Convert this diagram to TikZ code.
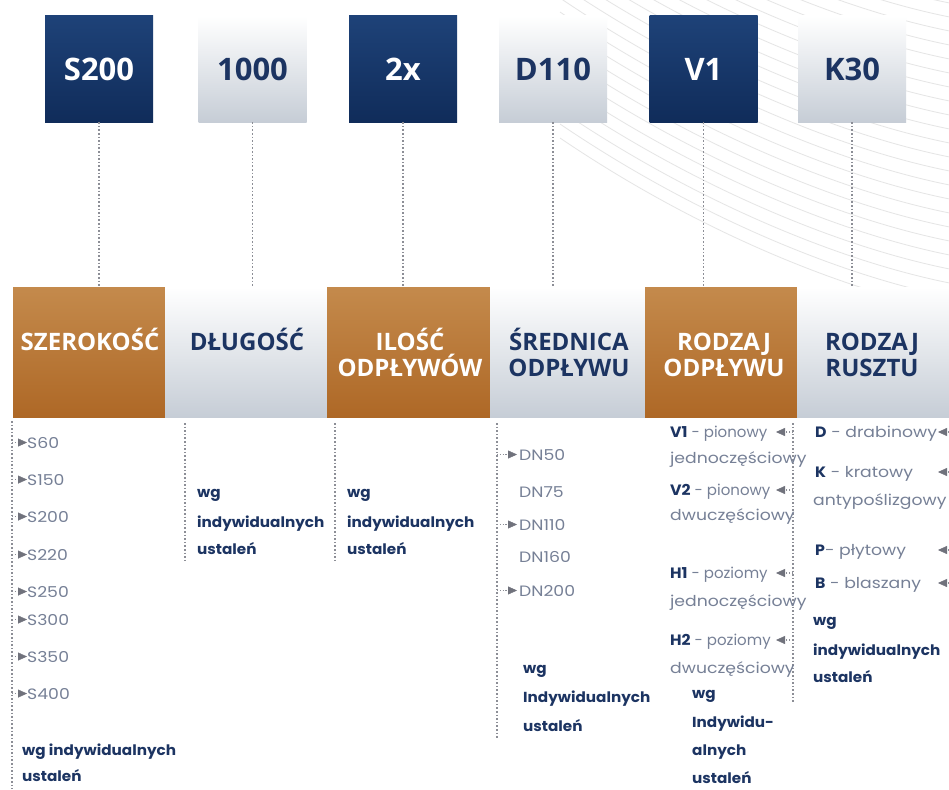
\documentclass[tikz,border=0pt]{standalone}
\usepackage{fontspec}
\usetikzlibrary{arrows.meta,calc}
\setmainfont{Open Sans}
\newfontfamily\hdf{Open Sans}
\newfontfamily\itf{Poppins}[FakeStretch=1.15]
\newfontfamily\itn{Poppins}[FakeStretch=1.0]
\newfontfamily\itbf{Poppins}[FakeStretch=1.05]
\definecolor{navyL}{RGB}{30,66,120}
\definecolor{navyD}{RGB}{16,44,90}
\definecolor{navyT}{RGB}{28,52,98}
\definecolor{greyD}{RGB}{198,205,214}
\definecolor{brownL}{RGB}{196,138,76}
\definecolor{brownD}{RGB}{174,104,38}
\definecolor{itemC}{RGB}{118,128,150}
\definecolor{dotC}{RGB}{140,142,150}
\definecolor{tipC}{RGB}{112,114,124}
\tikzset{
  topD/.style={minimum width=108pt,minimum height=106pt,inner sep=0pt,top color=navyL,bottom color=navyD,text=white,font=\hdf\bfseries\fontsize{31}{31}\selectfont},
  topG/.style={minimum width=108pt,minimum height=106pt,inner sep=0pt,top color=white,bottom color=greyD,text=navyT,font=\hdf\bfseries\fontsize{31}{31}\selectfont},
  hdB/.style={minimum height=130pt,inner sep=0pt,top color=brownL,bottom color=brownD},
  hdG/.style={minimum height=130pt,inner sep=0pt,top color=white,bottom color=greyD},
  htW/.style={font=\hdf\bfseries\fontsize{24}{26}\selectfont,text=white,anchor=base,inner sep=0pt},
  htN/.style={font=\hdf\bfseries\fontsize{24}{26}\selectfont,text=navyT,anchor=base,inner sep=0pt},
  item/.style={font=\itf\fontsize{15}{18}\selectfont,text=itemC,anchor=base west,inner sep=0pt},
  nitem/.style={font=\itn\fontsize{15}{18}\selectfont,text=itemC,anchor=base west,inner sep=0pt},
  bitem/.style={font=\itbf\bfseries\fontsize{14.5}{18}\selectfont,text=navyT,anchor=base west,inner sep=0pt},
  dotline/.style={draw=dotC,line width=1.6pt,dash pattern=on 1.6pt off 2pt},
  stub/.style={draw=dotC,line width=1.2pt,dash pattern=on 1.2pt off 1.6pt,-{Triangle[length=9pt,width=8pt,color=tipC,line width=0.4pt]}},
  deco/.style={draw=gray!20,line width=0.8pt},
}
\newcommand{\cd}[1]{{\color{navyT}\itbf\bfseries #1}}
\begin{document}
\begin{tikzpicture}[x=1pt,y=-1pt]
\useasboundingbox (0,0) rectangle (949,789);
\fill[white] (0,0) rectangle (949,789);
% decorative curves
\foreach \i in {0,...,22}
  \draw[deco] (560,\i*14-170) .. controls (700,\i*14-75) and (850,\i*14-15) .. (960,\i*14+5);
% top boxes
\node[topD] (t1) at (99,69) {S200};
\node[topG] (t2) at (252.5,69) {1000};
\node[topD] (t3) at (403,69) {2x};
\node[topG] (t4) at (553,69) {D110};
\node[topD] (t5) at (703.5,69) {V1};
\node[topG] (t6) at (852,69) {K30};
% headers
\node[hdB,minimum width=152pt] (h1) at (89,352) {};
\node[hdG,minimum width=162pt] (h2) at (246,352) {};
\node[hdB,minimum width=163pt] (h3) at (408.5,352) {};
\node[hdG,minimum width=155pt] (h4) at (567.5,352) {};
\node[hdB,minimum width=152pt] (h5) at (721,352) {};
\node[hdG,minimum width=152pt] (h6) at (873,352) {};
\node[htW] (x1) at (90,350) {SZEROKOŚĆ};
\node[htN] (x2) at (247,350) {DŁUGOŚĆ};
\node[htW] (x3a) at (410,350) {ILOŚĆ};
\node[htW] (x3b) at (410,376) {ODPŁYWÓW};
\node[htN] (x4a) at (569,350) {ŚREDNICA};
\node[htN] (x4b) at (569,376) {ODPŁYWU};
\node[htW] (x5a) at (724,350) {RODZAJ};
\node[htW] (x5b) at (724,376) {ODPŁYWU};
\node[htN] (x6a) at (872,350) {RODZAJ};
\node[htN] (x6b) at (872,376) {RUSZTU};
% top connectors
\foreach \k in {1,...,6}
  \draw[dotline] (t\k.south) -- (t\k.south |- h\k.north);
% lower dotted lines
\coordinate (a1) at (12,421);  \coordinate (b1) at (12,789);
\coordinate (a2) at (185,423); \coordinate (b2) at (185,562);
\coordinate (a3) at (335,423); \coordinate (b3) at (335,560);
\coordinate (a4) at (497,423); \coordinate (b4) at (497,738);
\coordinate (a5) at (793,423); \coordinate (b5) at (793,703);
\coordinate (a6) at (949,423);
\foreach \k in {1,...,5} \draw[dotline] (a\k) -- (b\k);
% column 1
\foreach \t/\y [count=\k] in {S60/443,S150/480,S200/517,S220/555,S250/592,S300/620,S350/657,S400/694} {
  \node[item] (s\k) at (27,\y+5) {\t};
  \draw[stub] (s\k.west -| a1) -- (s\k.west);
}
\node[bitem] (c1a) at (22,755) {wg indywidualnych};
\node[bitem] (c1b) at (22,781) {ustaleń};
% column 2 and 3
\node[bitem] (c2a) at (197,497) {wg};
\node[bitem] (c2b) at (197,527) {indywidualnych};
\node[bitem] (c2c) at (197,554) {ustaleń};
\node[bitem] (c3a) at (347,497) {wg};
\node[bitem] (c3b) at (347,527) {indywidualnych};
\node[bitem] (c3c) at (347,554) {ustaleń};
% column 4
\node[item] (d1) at (519,460) {DN50};
\node[item] (d2) at (519,497) {DN75};
\node[item] (d3) at (519,530) {DN110};
\node[item] (d4) at (519,562) {DN160};
\node[item] (d5) at (519,596) {DN200};
\foreach \k in {1,3,5}
  \draw[stub,shorten >=2pt] (d\k.west -| a4) -- (d\k.west);
\node[bitem] (c4a) at (523,673) {wg};
\node[bitem] (c4b) at (523,702) {Indywidualnych};
\node[bitem] (c4c) at (523,731) {ustaleń};
% column 5
\node[nitem] (v1) at (670,437) {\cd{V1} - pionowy};
\node[item] (v1b) at (670,463) {jednoczęściowy};
\node[nitem] (v2) at (670,495) {\cd{V2} - pionowy};
\node[item] (v2b) at (670,520) {dwuczęściowy};
\node[nitem] (v3) at (670,578) {\cd{H1} - poziomy};
\node[item] (v3b) at (670,606) {jednoczęściowy};
\node[nitem] (v4) at (670,645) {\cd{H2} - poziomy};
\node[item] (v4b) at (670,673) {dwuczęściowy};
\foreach \k in {1,...,4}
  \draw[stub] ($(v\k.base -| a5)+(0,-5)$) -- ($(v\k.base -| a5)+(-17,-5)$);
\node[bitem] (c5a) at (692,698) {wg};
\node[bitem] (c5b) at (692,727) {Indywidu-};
\node[bitem] (c5c) at (692,755) {alnych};
\node[bitem] (c5d) at (692,783) {ustaleń};
% column 6
\node[item] (r1) at (815,437) {\cd{D} - drabinowy};
\node[item] (r2) at (815,477) {\cd{K} - kratowy};
\node[item] (r2b) at (813,505) {antypoślizgowy};
\node[item] (r3) at (815,555) {\cd{P}- płytowy};
\node[item] (r4) at (815,588) {\cd{B} - blaszany};
\foreach \k in {1,...,4}
  \draw[stub] ($(r\k.base -| a6)+(6,-5)$) -- ($(r\k.base -| a6)+(-11,-5)$);
\node[bitem] (c6a) at (813,625) {wg};
\node[bitem] (c6b) at (813,655) {indywidualnych};
\node[bitem] (c6c) at (813,682) {ustaleń};
\end{tikzpicture}
\end{document}
